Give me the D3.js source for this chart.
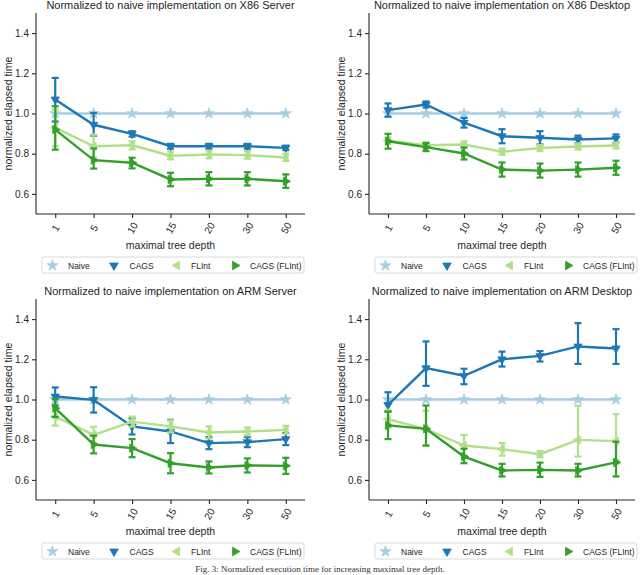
<!DOCTYPE html>
<html><head><meta charset="utf-8">
<script src="https://cdn.jsdelivr.net/npm/d3@7"></script>
<style>body{margin:0;background:#fff}svg{display:block;font-family:"Liberation Sans",Arial,sans-serif}</style>
</head><body><svg id="c" width="640" height="575"></svg>
<script>
const categories = ["1","5","10","15","20","30","50"];
const seriesNames = ["Naive","CAGS","FLInt","CAGS (FLInt)"];
const yTicks = [0.6,0.8,1.0,1.2,1.4];
const titles = ["Normalized to naive implementation on X86 Server","Normalized to naive implementation on X86 Desktop",
                "Normalized to naive implementation on ARM Server","Normalized to naive implementation on ARM Desktop"];

const naive = [1,1,1,1,1,1,1];
// X86 Server
const xsCAGS = [1.07,0.944,0.899,0.837,0.837,0.837,0.829];
const xsCAGSlo = [0.96,0.89,0.885,0.825,0.825,0.825,0.818];
const xsCAGShi = [1.177,1.003,0.912,0.849,0.849,0.849,0.84];
const xsFL = [0.93,0.837,0.842,0.79,0.796,0.793,0.781];
const xsFLlo = [0.837,0.78,0.822,0.772,0.777,0.775,0.764];
const xsFLhi = [1.02,0.895,0.862,0.81,0.815,0.812,0.8];
const xsCFL = [0.92,0.768,0.755,0.672,0.675,0.675,0.663];
const xsCFLlo = [0.82,0.726,0.727,0.638,0.642,0.642,0.63];
const xsCFLhi = [1.036,0.826,0.78,0.705,0.708,0.708,0.697];
// X86 Desktop
const xdCAGS = [1.017,1.045,0.954,0.887,0.879,0.871,0.876];
const xdCAGSlo = [0.984,1.03,0.93,0.852,0.846,0.852,0.856];
const xdCAGShi = [1.05,1.06,0.978,0.922,0.912,0.89,0.896];
const xdFL = [0.865,0.842,0.846,0.81,0.828,0.836,0.841];
const xdFLlo = [0.85,0.827,0.831,0.795,0.813,0.821,0.826];
const xdFLhi = [0.88,0.857,0.861,0.825,0.843,0.851,0.856];
const xdCFL = [0.862,0.833,0.801,0.721,0.716,0.721,0.73];
const xdCFLlo = [0.825,0.813,0.771,0.686,0.681,0.686,0.695];
const xdCFLhi = [0.899,0.853,0.831,0.756,0.751,0.756,0.765];
// ARM Server
const asCAGS = [1.015,0.998,0.866,0.841,0.783,0.788,0.803];
const asCAGSlo = [0.97,0.935,0.826,0.783,0.753,0.763,0.773];
const asCAGShi = [1.06,1.061,0.906,0.899,0.813,0.813,0.833];
const asFL = [0.915,0.824,0.89,0.866,0.836,0.841,0.849];
const asFLlo = [0.87,0.784,0.865,0.836,0.806,0.821,0.829];
const asFLhi = [0.96,0.864,0.915,0.896,0.866,0.861,0.869];
const asCFL = [0.957,0.776,0.758,0.683,0.662,0.672,0.67];
const asCFLlo = [0.913,0.732,0.713,0.633,0.632,0.637,0.63];
const asCFLhi = [1.001,0.82,0.803,0.733,0.692,0.707,0.71];
// ARM Desktop
const adCAGS = [0.973,1.156,1.118,1.2,1.217,1.264,1.254];
const adCAGSlo = [0.94,1.068,1.076,1.164,1.189,1.177,1.177];
const adCAGShi = [1.036,1.289,1.153,1.238,1.241,1.38,1.35];
const adFL = [0.902,0.852,0.771,0.753,0.728,0.799,0.793];
const adFLlo = [0.86,0.77,0.716,0.721,0.713,0.716,0.70];
const adFLhi = [0.949,0.944,0.824,0.783,0.743,0.969,0.927];
const adCFL = [0.871,0.854,0.716,0.647,0.65,0.647,0.687];
const adCFLlo = [0.803,0.771,0.683,0.617,0.615,0.617,0.617];
const adCFLhi = [0.94,0.97,0.755,0.68,0.686,0.68,0.79];

const colors = ["#a6cee3","#1f78b4","#b2df8a","#33a02c"];
const rotations = [0,180,-90,90];

const panels = [
  {title:titles[0], x0:36, x1:305, y0:13, y1:214, series:[[naive,naive,naive],[xsCAGS,xsCAGSlo,xsCAGShi],[xsFL,xsFLlo,xsFLhi],[xsCFL,xsCFLlo,xsCFLhi]]},
  {title:titles[1], x0:369, x1:635, y0:13, y1:214, series:[[naive,naive,naive],[xdCAGS,xdCAGSlo,xdCAGShi],[xdFL,xdFLlo,xdFLhi],[xdCFL,xdCFLlo,xdCFLhi]]},
  {title:titles[2], x0:36, x1:305, y0:299, y1:500, series:[[naive,naive,naive],[asCAGS,asCAGSlo,asCAGShi],[asFL,asFLlo,asFLhi],[asCFL,asCFLlo,asCFLhi]]},
  {title:titles[3], x0:369, x1:635, y0:299, y1:500, series:[[naive,naive,naive],[adCAGS,adCAGSlo,adCAGShi],[adFL,adFLlo,adFLhi],[adCFL,adCFLlo,adCFLhi]]}
];

const svg = d3.select("#c");
const textCol = "#262626";

function marker(i, size){
  const t = i===0 ? d3.symbolStar : d3.symbolTriangle;
  return d3.symbol().type(t).size(size)();
}

panels.forEach(p=>{
  const x = d3.scalePoint().domain(categories).range([p.x0,p.x1]).padding(0.5);
  const y = d3.scaleLinear().domain([0.5,1.5]).range([p.y1,p.y0]);
  const g = svg.append("g");
  g.append("text").attr("x",(p.x0+p.x1)/2).attr("y",p.y0-4).attr("text-anchor","middle")
    .attr("font-size",11).attr("fill",textCol).text(p.title);
  const ya = g.append("g").attr("transform",`translate(${p.x0},0)`)
    .call(d3.axisLeft(y).tickValues(yTicks).tickFormat(d3.format(".1f")).tickSize(4).tickSizeOuter(0).tickPadding(3));
  const xa = g.append("g").attr("transform",`translate(0,${p.y1})`)
    .call(d3.axisBottom(x).tickSize(4).tickSizeOuter(0));
  [ya,xa].forEach(a=>{
    a.select(".domain").attr("stroke","#262626").attr("stroke-width",1.1);
    a.selectAll(".tick line").attr("stroke","#262626").attr("stroke-width",1.1);
    a.selectAll(".tick text").attr("fill",textCol).attr("font-size",10).attr("font-family","Liberation Sans, Arial, sans-serif");
  });
  xa.select(".domain").attr("d",`M${p.x0},0H${p.x1}`);
  ya.select(".domain").attr("d",`M0,${p.y0}V${p.y1}`);
  xa.selectAll(".tick text").attr("y",0).attr("dy",0)
    .attr("text-anchor","middle").attr("dominant-baseline","central")
    .attr("transform","translate(0,14) rotate(-60)");
  g.append("text").attr("x",(p.x0+p.x1)/2).attr("y",p.y1+35).attr("text-anchor","middle")
    .attr("font-size",10.5).attr("fill",textCol).text("maximal tree depth");
  g.append("text").attr("transform",`translate(${p.x0-24},${(p.y0+p.y1)/2}) rotate(-90)`)
    .attr("text-anchor","middle").attr("font-size",10.5).attr("fill",textCol).text("normalized elapsed time");
  p.series.forEach((s,i)=>{
    const [m,lo,hi] = s;
    const sg = g.append("g");
    const pts = categories.map((c,k)=>({c, m:m[k], lo:lo[k], hi:hi[k]}));
    sg.append("path").datum(pts).attr("fill","none").attr("stroke",colors[i]).attr("stroke-width",2.4)
      .attr("d", d3.line().x(d=>x(d.c)).y(d=>y(d.m)));
    if(i>0){
      pts.forEach(d=>{
        const cx = x(d.c);
        sg.append("line").attr("x1",cx).attr("x2",cx).attr("y1",y(d.lo)).attr("y2",y(d.hi))
          .attr("stroke",colors[i]).attr("stroke-width",2.2);
        [d.lo,d.hi].forEach(v=>sg.append("line").attr("x1",cx-3.5).attr("x2",cx+3.5).attr("y1",y(v)).attr("y2",y(v))
          .attr("stroke",colors[i]).attr("stroke-width",2.2));
      });
    }
    sg.selectAll("path.m").data(pts).join("path").attr("class","m")
      .attr("d",marker(i, i===0?38:30))
      .attr("transform",d=>`translate(${x(d.c)},${y(d.m)}) rotate(${rotations[i]})`)
      .attr("fill",colors[i]).attr("stroke",colors[i]).attr("stroke-width",0.8);
  });
  const ly = p.y1 + 43;
  const lx = p.x0 + 6;
  const lg = g.append("g").attr("transform",`translate(${lx},${ly})`);
  lg.append("rect").attr("x",0).attr("y",0).attr("width",262).attr("height",16).attr("rx",2)
    .attr("fill","#fff").attr("stroke","#d0d0d0").attr("stroke-width",0.8);
  const mOff = [10.5,72,135,193];
  const tOff = [26,87.5,149,208];
  seriesNames.forEach((n,i)=>{
    lg.append("path").attr("d",marker(i, i===0?38:32))
      .attr("transform",`translate(${mOff[i]},8.5) rotate(${rotations[i]})`)
      .attr("fill",colors[i]).attr("stroke",colors[i]).attr("stroke-width",0.8);
    lg.append("text").attr("x",tOff[i]).attr("y",11.5).attr("font-size",8.5).attr("fill",textCol).text(n);
  });
});

svg.append("text").attr("x",320).attr("y",572).attr("text-anchor","middle")
  .attr("font-family","Liberation Serif, Times New Roman, serif").attr("font-size",9).attr("fill","#333")
  .text("Fig. 3: Normalized execution time for increasing maximal tree depth.");
</script></body></html>
